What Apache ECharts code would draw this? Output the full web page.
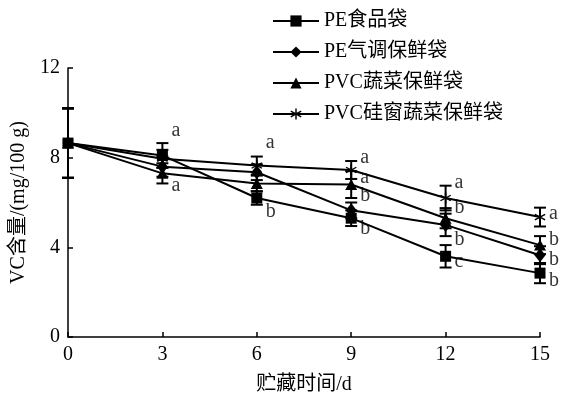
<!DOCTYPE html>
<html>
<head>
<meta charset="utf-8">
<script src="https://cdn.jsdelivr.net/npm/echarts@6/dist/echarts.min.js"></script>
<style>html,body{margin:0;padding:0;background:#fff}#c{width:563px;height:400px}</style>
</head>
<body>
<div id="c"></div>
<script>
var days = [0, 3, 6, 9, 12, 15];
var xTicks = [0, 3, 6, 9, 12, 15];
var yTicks = [0, 4, 8, 12];
var seriesNames = ['PE食品袋', 'PE气调保鲜袋', 'PVC蔬菜保鲜袋', 'PVC硅窗蔬菜保鲜袋'];
var peFood = [8.65, 8.1, 6.2, 5.3, 3.6, 2.85];
var peFoodErr = [1.55, 0.55, 0.3, 0.35, 0.5, 0.45];
var peMod = [8.65, 7.6, 7.35, 5.65, 5.0, 3.65];
var peModErr = [1.55, 0.45, 0.35, 0.35, 0.5, 0.4];
var pvcVeg = [8.65, 7.3, 6.85, 6.8, 5.3, 4.1];
var pvcVegErr = [1.55, 0.45, 0.35, 0.6, 0.45, 0.4];
var pvcSil = [8.65, 7.95, 7.65, 7.45, 6.2, 5.35];
var pvcSilErr = [1.55, 0.4, 0.4, 0.4, 0.55, 0.42];
var sigDay = [3, 3, 6, 6, 9, 9, 9, 9, 12, 12, 12, 12, 15, 15, 15, 15];
var sigValue = [9.2, 6.74, 8.66, 5.58, 8.0, 7.1, 6.3, 4.82, 6.88, 5.76, 4.33, 3.35, 5.5, 4.33, 3.44, 2.5];
var sigText = ['a', 'a', 'a', 'b', 'a', 'a', 'b', 'b', 'a', 'b', 'b', 'c', 'a', 'b', 'b', 'b'];

var FONT = '"Liberation Serif", "Times New Roman", "Noto Sans CJK SC", serif';
var asterisk = 'path://M-1.2,10 L1.2,10 L1.2,-10 L-1.2,-10 Z M8.06,6.04 L9.26,3.96 L-8.06,-6.04 L-9.26,-3.96 Z M-9.26,3.96 L-8.06,6.04 L9.26,-3.96 L8.06,-6.04 Z';

var values = [peFood, peMod, pvcVeg, pvcSil];
var errs = [peFoodErr, peModErr, pvcVegErr, pvcSilErr];
var symbols = ['rect', 'diamond', 'triangle', asterisk];
var sizes = [[11, 11], [11, 14], [12, 11], [11, 11]];

var series = [];
var order = [3, 2, 1, 0];
values.forEach(function (vals, i) {
  var errData = days.map(function (d, j) { return [d, vals[j] - errs[i][j], vals[j] + errs[i][j]]; });
  series.push({
    type: 'custom',
    name: seriesNames[i] + '_err',
    data: errData,
    z: 2,
    silent: true,
    renderItem: function (params, api) {
      var x = api.value(0);
      var lo = api.coord([x, api.value(1)]);
      var hi = api.coord([x, api.value(2)]);
      var hw = 6;
      var st = { stroke: '#000', lineWidth: 2 };
      return {
        type: 'group',
        children: [
          { type: 'line', shape: { x1: lo[0], y1: lo[1], x2: hi[0], y2: hi[1] }, style: st },
          { type: 'line', shape: { x1: lo[0] - hw, y1: lo[1], x2: lo[0] + hw, y2: lo[1] }, style: st },
          { type: 'line', shape: { x1: hi[0] - hw, y1: hi[1], x2: hi[0] + hw, y2: hi[1] }, style: st }
        ]
      };
    }
  });
});
order.forEach(function (i) {
  series.push({
    type: 'line',
    name: seriesNames[i],
    data: days.map(function (d, j) { return [d, values[i][j]]; }),
    symbol: symbols[i],
    symbolSize: sizes[i],
    showSymbol: true,
    z: 3 + (3 - i),
    lineStyle: { color: '#000', width: 2 },
    itemStyle: { color: '#000', borderWidth: 0 },
    animation: false
  });
});
series.push({
  type: 'scatter',
  name: 'sig',
  data: sigDay.map(function (d, k) { return [d, sigValue[k], sigText[k]]; }),
  symbolSize: 0,
  silent: true,
  z: 10,
  label: {
    show: true,
    position: 'right',
    distance: 9,
    color: '#000',
    fontFamily: FONT,
    fontSize: 20,
    formatter: function (p) { return p.value[2]; }
  }
});

var chart = echarts.init(document.getElementById('c'), null, { renderer: 'canvas' });
chart.setOption({
  animation: false,
  backgroundColor: '#fff',
  grid: { left: 68, right: 23, top: 68, bottom: 63, containLabel: false },
  legend: {
    data: seriesNames,
    orient: 'vertical',
    left: 272,
    top: 11,
    padding: 0,
    itemWidth: 46,
    itemHeight: 14,
    itemGap: 11,
    textStyle: { fontFamily: FONT, fontSize: 20, color: '#000', padding: [0, 0, 0, 0] },
    selectedMode: false
  },
  xAxis: {
    type: 'value',
    min: xTicks[0],
    max: xTicks[xTicks.length - 1],
    interval: 3,
    name: '贮藏时间/d',
    nameLocation: 'middle',
    nameGap: 38,
    nameTextStyle: { fontFamily: FONT, fontSize: 20, color: '#000' },
    axisLine: { onZero: false, lineStyle: { color: '#000', width: 1.5 } },
    axisTick: { inside: true, length: 5, lineStyle: { color: '#000', width: 1.5 } },
    axisLabel: { margin: 8, fontFamily: FONT, fontSize: 20, color: '#000' },
    splitLine: { show: false }
  },
  yAxis: {
    type: 'value',
    min: yTicks[0],
    max: yTicks[yTicks.length - 1],
    interval: 4,
    name: 'VC含量/(mg/100 g)',
    nameLocation: 'middle',
    nameGap: 36,
    nameRotate: 90,
    nameTextStyle: { fontFamily: FONT, fontSize: 20, color: '#000' },
    axisLine: { show: true, lineStyle: { color: '#000', width: 1.5 } },
    axisTick: { show: true, inside: true, length: 5, lineStyle: { color: '#000', width: 1.5 } },
    axisLabel: { margin: 8, fontFamily: FONT, fontSize: 20, color: '#000' },
    splitLine: { show: false }
  },
  series: series
});
</script>
</body>
</html>
